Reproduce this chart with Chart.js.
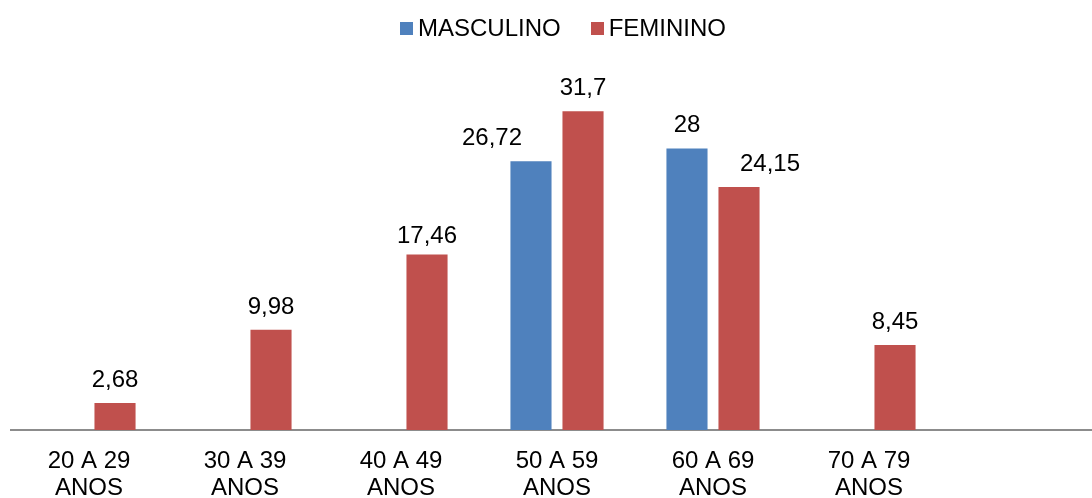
<!DOCTYPE html>
<html>
<head>
<meta charset="utf-8">
<script src="https://cdn.jsdelivr.net/npm/chart.js@4/dist/chart.umd.min.js"></script>
<style>
  html, body { margin: 0; padding: 0; background: #ffffff; overflow: hidden; }
  #wrap { position: relative; width: 1120px; height: 498px; }
  #legend {
    position: absolute; top: 16px; left: 400px; height: 24px;
    display: flex; align-items: center;
    font: 24px "Liberation Sans", Arial, sans-serif; color: #000000;
    line-height: 24px; white-space: nowrap;
  }
  #legend .item { display: flex; align-items: center; margin-right: 30px; }
  #legend .box { width: 13px; height: 13px; margin-right: 5px; }
</style>
</head>
<body>
<div id="wrap">
  <canvas id="chart"></canvas>
  <div id="legend"></div>
</div>
<script>
// Age groups (two-line labels); the last slot is left empty on purpose
const categories = [
  ['20 A 29', 'ANOS'],
  ['30 A 39', 'ANOS'],
  ['40 A 49', 'ANOS'],
  ['50 A 59', 'ANOS'],
  ['60 A 69', 'ANOS'],
  ['70 A 79', 'ANOS'],
  ''
];
const masculino = [null, null, null, 26.72, 28, null, null];
const feminino  = [2.68, 9.98, 17.46, 31.7, 24.15, 8.45, null];

const FONT = '"Liberation Sans", Arial, sans-serif';
const FONT_SIZE = 24;

// Hand-placed value labels: pixel offsets keyed "dataset:index"
const labelNudge = {
  '0:3': { dx: -39, dy: 0 },
  '1:4': { dx: 31, dy: 0 },
  '1:2': { dx: 0, dy: 5 }
};

// Writes each bar's value above it, with a decimal comma
const valueLabels = {
  id: 'valueLabels',
  afterDatasetsDraw(chart, args, opts) {
    const ctx = chart.ctx;
    ctx.save();
    ctx.font = FONT_SIZE + 'px ' + FONT;
    ctx.fillStyle = '#000000';
    ctx.textAlign = 'center';
    ctx.textBaseline = 'alphabetic';
    chart.data.datasets.forEach((ds, i) => {
      chart.getDatasetMeta(i).data.forEach((bar, j) => {
        const v = ds.data[j];
        if (v === null || v === undefined) return;
        const n = (opts.nudge || {})[i + ':' + j] || { dx: 0, dy: 0 };
        ctx.fillText(String(v).replace('.', ','), bar.x + n.dx, bar.y - opts.gap + n.dy);
      });
    });
    ctx.restore();
  }
};

// Legend built as HTML from the chart's own datasets
const htmlLegend = {
  id: 'htmlLegend',
  afterUpdate(chart) {
    const host = document.getElementById('legend');
    host.innerHTML = '';
    chart.data.datasets.forEach(ds => {
      const item = document.createElement('span');
      item.className = 'item';
      const box = document.createElement('span');
      box.className = 'box';
      box.style.background = ds.backgroundColor;
      const txt = document.createElement('span');
      txt.textContent = ds.label;
      item.appendChild(box);
      item.appendChild(txt);
      host.appendChild(item);
    });
  }
};

new Chart(document.getElementById('chart'), {
  type: 'bar',
  data: {
    labels: categories,
    datasets: [
      { label: 'MASCULINO', data: masculino, backgroundColor: '#4F81BD' },
      { label: 'FEMININO',  data: feminino,  backgroundColor: '#C0504D' }
    ]
  },
  options: {
    responsive: true,
    maintainAspectRatio: false,
    animation: false,
    layout: { padding: { top: 78, left: 11, right: 17, bottom: -22 } },
    datasets: {
      bar: { categoryPercentage: 0.667, barPercentage: 0.79 }
    },
    scales: {
      x: {
        grid: { display: false, drawTicks: false },
        border: { display: true, color: '#8C8C8C', width: 2 },
        ticks: {
          color: '#000000',
          font: { family: FONT, size: FONT_SIZE, lineHeight: 27 / FONT_SIZE },
          padding: 18,
          maxRotation: 0,
          autoSkip: false
        }
      },
      y: {
        display: false,
        min: 0,
        max: 35
      }
    },
    plugins: {
      legend: { display: false },
      tooltip: { enabled: false },
      valueLabels: { gap: 16, nudge: labelNudge }
    }
  },
  plugins: [valueLabels, htmlLegend]
});
</script>
</body>
</html>
